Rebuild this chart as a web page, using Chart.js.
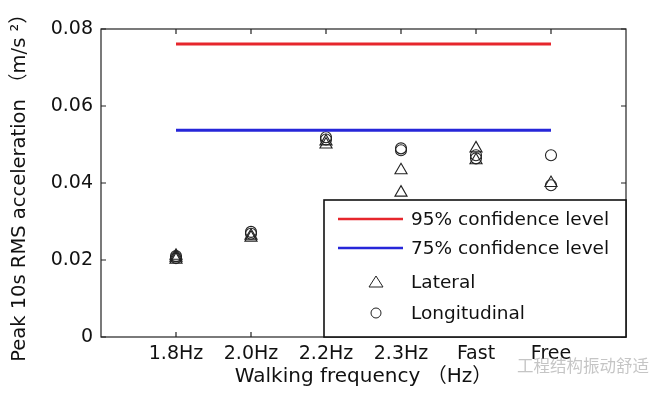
<!DOCTYPE html>
<html>
<head>
<meta charset="utf-8">
<script src="https://cdn.jsdelivr.net/npm/chart.js@4.4.0/dist/chart.umd.min.js"></script>
<style>
  body { margin: 0; background: #fff; }
  #wrap { width: 649px; height: 393px; position: relative; }
</style>
</head>
<body>
<div id="wrap"><canvas id="chart"></canvas></div>
<script>
const categories = ["1.8Hz", "2.0Hz", "2.2Hz", "2.3Hz", "Fast", "Free"];
const yTicks = [0, 0.02, 0.04, 0.06, 0.08];
const level95 = 0.0761;
const level75 = 0.0537;
// several tests per walking case
const lateral = [
  [0.0206, 0.0201, 0.0211],
  [0.0258, 0.0263],
  [0.0500, 0.0508],
  [0.0433, 0.0375],
  [0.0490, 0.0459],
  [0.0400]
];
const longitudinal = [
  [0.0210, 0.0205],
  [0.0273, 0.0268],
  [0.0519, 0.0513],
  [0.0490, 0.0485],
  [0.0472, 0.0464],
  [0.0472, 0.0394]
];

const FONT = "'DejaVu Sans', 'Noto Sans CJK SC', sans-serif";

function toPoints(groups) {
  const pts = [];
  groups.forEach((vals, i) => vals.forEach(v => pts.push({ x: i + 1, y: v })));
  return pts;
}

// MATLAB style box + inward ticks, and the legend box drawn over the data
const boxPlugin = {
  id: "box",
  afterDraw(chart) {
    const ctx = chart.ctx;
    const a = chart.chartArea;
    const xs = chart.scales.x, ys = chart.scales.y;
    ctx.save();
    ctx.strokeStyle = "#222";
    ctx.lineWidth = 1.2;
    ctx.strokeRect(a.left, a.top, a.right - a.left, a.bottom - a.top);
    ctx.beginPath();
    categories.forEach((c, i) => {
      const px = xs.getPixelForValue(i + 1);
      ctx.moveTo(px, a.bottom); ctx.lineTo(px, a.bottom - 5);
      ctx.moveTo(px, a.top); ctx.lineTo(px, a.top + 5);
    });
    yTicks.forEach(v => {
      const py = ys.getPixelForValue(v);
      ctx.moveTo(a.left, py); ctx.lineTo(a.left + 5, py);
      ctx.moveTo(a.right, py); ctx.lineTo(a.right - 5, py);
    });
    ctx.stroke();

    // legend
    const lx = 324, ly = 200, lw = a.right - 324, lh = a.bottom - 200;
    ctx.fillStyle = "#fff";
    ctx.fillRect(lx, ly, lw, lh);
    ctx.lineWidth = 1.6;
    ctx.strokeStyle = "#111";
    ctx.strokeRect(lx, ly, lw, lh);
    const rows = [219, 248, 282, 313];
    ctx.font = "18.5px " + FONT;
    ctx.textBaseline = "middle";
    ctx.textAlign = "left";
    chart.data.datasets.forEach((ds, i) => {
      const y = rows[i];
      if (ds.showLine) {
        ctx.strokeStyle = ds.borderColor;
        ctx.lineWidth = 2.5;
        ctx.beginPath();
        ctx.moveTo(338, y); ctx.lineTo(403, y);
        ctx.stroke();
      } else {
        ctx.strokeStyle = "#222";
        ctx.lineWidth = 1;
        ctx.beginPath();
        if (ds.pointStyle === "triangle") {
          ctx.moveTo(376, y - 6); ctx.lineTo(383, y + 5); ctx.lineTo(369, y + 5); ctx.closePath();
        } else {
          ctx.arc(376, y, 5, 0, Math.PI * 2);
        }
        ctx.stroke();
      }
      ctx.fillStyle = "#111";
      ctx.fillText(ds.label, 411, y + 1);
    });

    // watermark
    ctx.font = "16.5px 'Noto Sans CJK SC', sans-serif";
    ctx.fillStyle = "rgba(150,150,150,0.55)";
    ctx.fillText("工程结构振动舒适", 517, 366);
    ctx.restore();
  }
};

new Chart(document.getElementById("chart"), {
  type: "scatter",
  data: {
    datasets: [
      {
        label: "95% confidence level",
        data: [{ x: 1, y: level95 }, { x: 6, y: level95 }],
        showLine: true, borderColor: "#e6262c", borderWidth: 3, pointRadius: 0
      },
      {
        label: "75% confidence level",
        data: [{ x: 1, y: level75 }, { x: 6, y: level75 }],
        showLine: true, borderColor: "#2626d9", borderWidth: 3, pointRadius: 0
      },
      {
        label: "Lateral",
        data: toPoints(lateral),
        pointStyle: "triangle", pointRadius: 7, borderColor: "#222",
        backgroundColor: "rgba(0,0,0,0)", borderWidth: 1.1
      },
      {
        label: "Longitudinal",
        data: toPoints(longitudinal),
        pointStyle: "circle", pointRadius: 5.5, borderColor: "#222",
        backgroundColor: "rgba(0,0,0,0)", borderWidth: 1.1
      }
    ]
  },
  options: {
    responsive: true,
    maintainAspectRatio: false,
    animation: false,
    layout: { padding: { left: 0, top: 29, right: 23, bottom: 0 } },
    plugins: { legend: { display: false }, tooltip: { enabled: false } },
    scales: {
      x: {
        type: "linear", min: 0, max: 7,
        afterBuildTicks: s => { s.ticks = categories.map((c, i) => ({ value: i + 1 })); },
        afterFit: s => { s.height = 56; },
        grid: { display: false, drawTicks: false },
        border: { display: false },
        ticks: {
          padding: 6, color: "#111", font: { family: FONT, size: 19 },
          callback: v => categories[v - 1]
        },
        title: {
          display: true, text: "Walking frequency （Hz）", color: "#111",
          font: { family: FONT, size: 20 }, padding: { top: 3 }
        }
      },
      y: {
        min: 0, max: 0.08,
        afterBuildTicks: s => { s.ticks = yTicks.map(v => ({ value: v })); },
        afterFit: s => { s.width = 101; },
        grid: { display: false, drawTicks: false },
        border: { display: false },
        ticks: {
          padding: 8, color: "#111", font: { family: FONT, size: 19 },
          callback: v => v === 0 ? "0" : v.toFixed(2)
        },
        title: {
          display: true, text: "Peak 10s RMS acceleration （m/s ²）", color: "#111",
          font: { family: FONT, size: 19.5 }, padding: { top: 8, bottom: 0 }
        }
      }
    }
  },
  plugins: [boxPlugin]
});
</script>
</body>
</html>
